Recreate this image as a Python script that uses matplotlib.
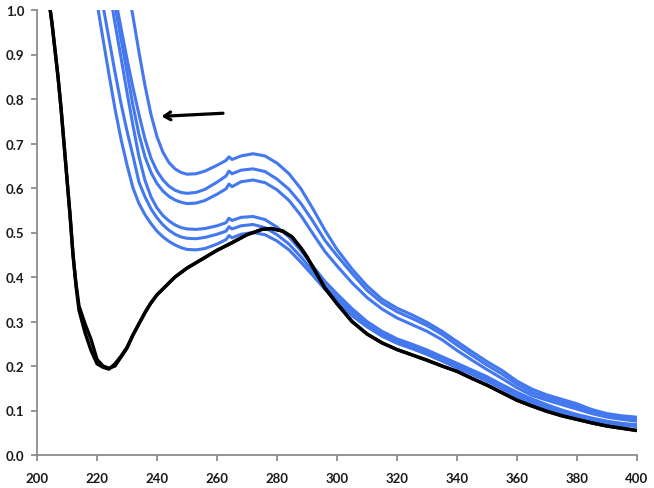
import matplotlib
matplotlib.use("Agg")
import matplotlib.pyplot as plt
from matplotlib.ticker import FormatStrFormatter

# Wavelength grid (nm) shared by the blue spectra
x_blue = [218, 220, 222, 224, 226, 228, 230, 232, 234, 236, 238, 240, 242, 244, 246, 248, 250,
          253, 256, 260, 263, 264, 265, 268, 272, 276, 280, 284, 288, 292, 296, 300,
          305, 310, 315, 320, 325, 330, 335, 340, 345, 350, 355, 360, 365, 370, 375, 380,
          385, 390, 395, 400]

c1 = [1.54, 1.46, 1.38, 1.30, 1.22, 1.14, 1.06, 0.985, 0.905, 0.830, 0.765, 0.715, 0.680, 0.657, 0.643, 0.635, 0.631,
      0.632, 0.638, 0.651, 0.662, 0.670, 0.664, 0.672, 0.677, 0.672, 0.656, 0.632, 0.598, 0.553, 0.505, 0.462,
      0.418, 0.380, 0.350, 0.330, 0.315, 0.298, 0.278, 0.255, 0.232, 0.210, 0.190, 0.166, 0.148, 0.135, 0.125, 0.115,
      0.102, 0.093, 0.088, 0.085]
c2 = [1.35, 1.28, 1.20, 1.10, 1.030, 0.960, 0.890, 0.825, 0.765, 0.710, 0.667, 0.638, 0.618, 0.604, 0.595, 0.590, 0.588,
      0.590, 0.597, 0.613, 0.627, 0.638, 0.632, 0.640, 0.643, 0.637, 0.620, 0.597, 0.565, 0.525, 0.482, 0.448,
      0.408, 0.370, 0.342, 0.322, 0.307, 0.291, 0.271, 0.247, 0.224, 0.202, 0.182, 0.159, 0.141, 0.129, 0.119, 0.109,
      0.098, 0.089, 0.083, 0.079]
c3 = [1.30, 1.22, 1.15, 1.075, 1.010, 0.935, 0.860, 0.785, 0.720, 0.670, 0.635, 0.610, 0.593, 0.581, 0.573, 0.568, 0.565,
      0.566, 0.572, 0.586, 0.598, 0.609, 0.603, 0.614, 0.618, 0.612, 0.596, 0.572, 0.538, 0.497, 0.457, 0.425,
      0.387, 0.354, 0.328, 0.308, 0.293, 0.278, 0.259, 0.235, 0.213, 0.192, 0.172, 0.151, 0.134, 0.123, 0.113, 0.103,
      0.093, 0.085, 0.080, 0.076]
c4 = [1.30, 1.22, 1.13, 1.05, 0.970, 0.893, 0.815, 0.740, 0.670, 0.617, 0.580, 0.555, 0.538, 0.526, 0.517, 0.511, 0.508,
      0.507, 0.509, 0.515, 0.522, 0.532, 0.527, 0.534, 0.536, 0.529, 0.512, 0.490, 0.459, 0.424, 0.390, 0.362,
      0.329, 0.300, 0.278, 0.261, 0.249, 0.236, 0.221, 0.206, 0.191, 0.176, 0.158, 0.141, 0.126, 0.113, 0.101, 0.091,
      0.083, 0.076, 0.071, 0.068]
c5 = [1.17, 1.09, 1.010, 0.935, 0.860, 0.790, 0.728, 0.672, 0.613, 0.580, 0.553, 0.533, 0.517, 0.505, 0.496, 0.490, 0.487,
      0.486, 0.489, 0.496, 0.503, 0.513, 0.508, 0.515, 0.518, 0.511, 0.495, 0.474, 0.445, 0.412, 0.380, 0.353,
      0.321, 0.293, 0.271, 0.256, 0.244, 0.231, 0.216, 0.201, 0.186, 0.171, 0.153, 0.136, 0.121, 0.109, 0.098, 0.088,
      0.080, 0.073, 0.069, 0.066]
c6 = [1.10, 1.016, 0.935, 0.855, 0.778, 0.710, 0.652, 0.600, 0.565, 0.540, 0.520, 0.503, 0.490, 0.480, 0.472, 0.466, 0.462,
      0.461, 0.464, 0.474, 0.484, 0.493, 0.488, 0.496, 0.500, 0.495, 0.481, 0.461, 0.433, 0.403, 0.372, 0.345,
      0.313, 0.288, 0.267, 0.251, 0.239, 0.226, 0.211, 0.196, 0.181, 0.166, 0.149, 0.131, 0.116, 0.104, 0.094, 0.085,
      0.077, 0.071, 0.067, 0.064]
blue_series = [c1, c2, c3, c4, c5, c6]

# Black (reference) spectrum, recorded twice
x_black = [204, 205, 206, 207, 208, 209, 210, 211, 212, 213, 214, 216, 218, 220, 222,
           224, 226, 228, 230, 232, 234, 236, 238, 240, 243, 246, 250, 255, 260, 265,
           270, 275, 278, 282, 285, 288, 290, 293, 296, 300, 305, 310, 315, 320, 325,
           330, 335, 340, 345, 350, 355, 360, 365, 370, 375, 380, 385, 390, 395, 400]
black_a = [1.02, 0.97, 0.91, 0.85, 0.78, 0.70, 0.62, 0.54, 0.45, 0.385, 0.335, 0.295, 0.260, 0.215, 0.200,
           0.195, 0.200, 0.220, 0.240, 0.270, 0.295, 0.320, 0.342, 0.360, 0.380, 0.400, 0.420, 0.440, 0.460, 0.477,
           0.495, 0.507, 0.509, 0.503, 0.490, 0.465, 0.445, 0.410, 0.375, 0.340, 0.300, 0.272, 0.252, 0.237, 0.225,
           0.213, 0.200, 0.188, 0.172, 0.157, 0.140, 0.123, 0.110, 0.098, 0.088, 0.080, 0.072, 0.065, 0.060, 0.055]
black_b = [1.02, 0.97, 0.91, 0.85, 0.78, 0.70, 0.62, 0.54, 0.45, 0.380, 0.325, 0.275, 0.235, 0.205, 0.197,
           0.193, 0.205, 0.222, 0.242, 0.270, 0.295, 0.320, 0.342, 0.360, 0.380, 0.400, 0.420, 0.440, 0.460, 0.477,
           0.495, 0.507, 0.509, 0.503, 0.490, 0.465, 0.445, 0.410, 0.375, 0.340, 0.300, 0.272, 0.252, 0.237, 0.225,
           0.213, 0.200, 0.188, 0.172, 0.157, 0.140, 0.123, 0.110, 0.098, 0.088, 0.080, 0.072, 0.065, 0.060, 0.055]

x_ticks = [200, 220, 240, 260, 280, 300, 320, 340, 360, 380, 400]
y_ticks = [0.0, 0.1, 0.2, 0.3, 0.4, 0.5, 0.6, 0.7, 0.8, 0.9, 1.0]

# Arrow (tail -> head) in data coordinates
arrow_tail = (262, 0.768)
arrow_head = (241.5, 0.761)

plt.rcParams['font.family'] = ['Lato', 'DejaVu Sans']

fig = plt.figure(figsize=(6.54, 4.89), dpi=100)
ax = fig.add_axes([37/654, 33/489, 600/654, 445/489])

blue = '#4378EE'
for s in blue_series:
    ax.plot(x_blue, s, color=blue, lw=2.2, solid_capstyle='round', solid_joinstyle='round')
ax.plot(x_black, black_b, color='black', lw=2.4, solid_joinstyle='round')
ax.plot(x_black, black_a, color='black', lw=2.4, solid_joinstyle='round')

ax.annotate('', xy=arrow_head, xytext=arrow_tail,
            arrowprops=dict(arrowstyle='->,head_length=0.45,head_width=0.28', color='black', lw=2.3,
                            shrinkA=0, shrinkB=0))

ax.set_xlim(200, 400)
ax.set_ylim(0, 1.0)
ax.set_xticks(x_ticks)
ax.set_yticks(y_ticks)
ax.yaxis.set_major_formatter(FormatStrFormatter('%.1f'))

for side in ['top', 'right']:
    ax.spines[side].set_visible(False)
for side in ['left', 'bottom']:
    ax.spines[side].set_color('#8c8c8c')
    ax.spines[side].set_linewidth(1.3)
ax.tick_params(axis='both', direction='out', length=4, width=1.3, color='#8c8c8c',
               labelsize=9.5, labelcolor='#1a1a1a')
ax.tick_params(axis='x', pad=8)
ax.tick_params(axis='y', pad=5)
for lab in ax.get_xticklabels() + ax.get_yticklabels():
    lab.set_fontweight('bold')

fig.savefig('out.png', dpi=100)
